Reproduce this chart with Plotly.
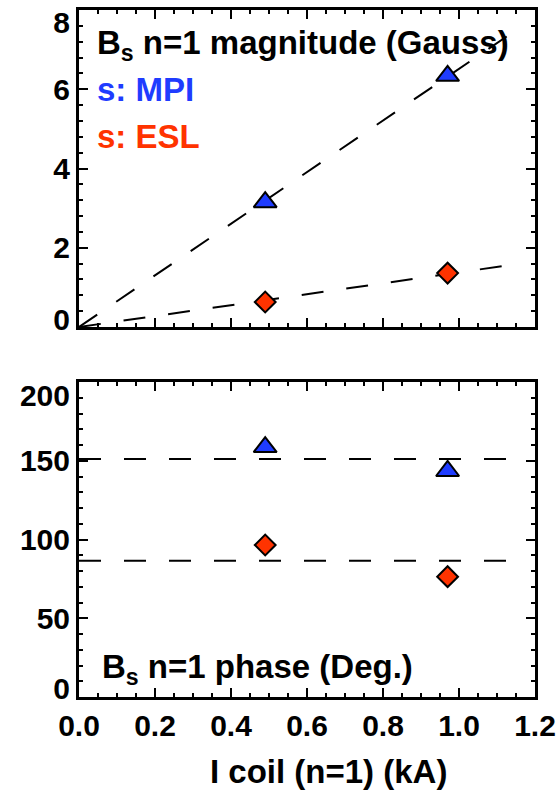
import numpy as np
import plotly.graph_objects as go

# ---- data ----
coil_current = [0.49, 0.97]          # I coil (n=1) (kA)
mpi_magnitude = [3.15, 6.34]         # Gauss
esl_magnitude = [0.63, 1.36]         # Gauss
mpi_phase = [158.7, 143.5]           # Deg.
esl_phase = [96.5, 76.4]             # Deg.
fit_range = [0.0, 1.13]              # extent of the dashed guide lines

x_ticks = [0.0, 0.2, 0.4, 0.6, 0.8, 1.0, 1.2]
mag_ticks = [0, 2, 4, 6, 8]
phase_ticks = [0, 50, 100, 150, 200]

BLUE = "#1f3cff"
RED = "#ff3300"
FONT = "Liberation Sans"

W, H = 558, 797


def px_x(p):
    return p / W


def px_y(p):
    return 1 - p / H


# linear fits through the origin for magnitude, mean values for phase
cx = np.array(coil_current)
slope_mpi = float(np.dot(cx, mpi_magnitude) / np.dot(cx, cx))
slope_esl = float(np.dot(cx, esl_magnitude) / np.dot(cx, cx))
fx = np.array(fit_range)
mean_mpi = float(np.mean(mpi_phase))
mean_esl = float(np.mean(esl_phase))

fig = go.Figure()

dash_style = dict(color="black", width=2, dash="22px,23px")
tri = dict(symbol="triangle-up", size=20, color=BLUE, line=dict(color="black", width=2))
dia = dict(symbol="diamond", size=16, color=RED, line=dict(color="black", width=2))

# top panel
fig.add_trace(go.Scatter(x=fx, y=slope_mpi * fx, mode="lines", line=dash_style,
                         xaxis="x", yaxis="y", showlegend=False))
fig.add_trace(go.Scatter(x=fx, y=slope_esl * fx, mode="lines", line=dash_style,
                         xaxis="x", yaxis="y", showlegend=False))
fig.add_trace(go.Scatter(x=coil_current, y=mpi_magnitude, mode="markers", marker=tri,
                         xaxis="x", yaxis="y", showlegend=False))
fig.add_trace(go.Scatter(x=coil_current, y=esl_magnitude, mode="markers", marker=dia,
                         xaxis="x", yaxis="y", showlegend=False))

# bottom panel
fig.add_trace(go.Scatter(x=fx, y=[mean_mpi, mean_mpi], mode="lines", line=dash_style,
                         xaxis="x2", yaxis="y2", showlegend=False))
fig.add_trace(go.Scatter(x=fx, y=[mean_esl, mean_esl], mode="lines", line=dash_style,
                         xaxis="x2", yaxis="y2", showlegend=False))
fig.add_trace(go.Scatter(x=coil_current, y=mpi_phase, mode="markers", marker=tri,
                         xaxis="x2", yaxis="y2", showlegend=False))
fig.add_trace(go.Scatter(x=coil_current, y=esl_phase, mode="markers", marker=dia,
                         xaxis="x2", yaxis="y2", showlegend=False))

# invisible carriers so the overlay label axes get drawn
for xa, ya, yv in [("x", "y3", mag_ticks[-1]), ("x", "y4", mag_ticks[0]),
                   ("x2", "y5", phase_ticks[-1]), ("x2", "y6", phase_ticks[0])]:
    fig.add_trace(go.Scatter(x=[coil_current[0]], y=[yv], mode="markers",
                             marker=dict(opacity=0), hoverinfo="skip",
                             xaxis=xa, yaxis=ya, showlegend=False))

tick_font = dict(family=FONT, size=30, color="black", weight="bold")

common = dict(showline=True, linewidth=3, linecolor="black", mirror="ticks",
              ticks="inside", ticklen=9, tickwidth=2, tickcolor="black",
              showgrid=False, zeroline=False, tickfont=tick_font, automargin=False)

CLEAR = "rgba(0,0,0,0)"
label_only = dict(visible=True, showticklabels=True, showline=True, linewidth=3,
                  linecolor=CLEAR, ticks="inside", ticklen=9, tickwidth=2, tickcolor=CLEAR,
                  showgrid=False, zeroline=False, side="left",
                  tickfont=tick_font, automargin=False, ticklabeloverflow="allow")

x_dom = [px_x(79), px_x(535)]
top_dom = [px_y(327), px_y(10)]
bot_dom = [px_y(697), px_y(382)]
mag_range = [mag_ticks[0], mag_ticks[-1]]
phase_range = [phase_ticks[0], phase_ticks[-1]]

fig.update_layout(
    width=W, height=H,
    margin=dict(l=0, r=0, t=0, b=0, autoexpand=False),
    paper_bgcolor="white", plot_bgcolor="white",
    xaxis=dict(domain=x_dom, range=[0, 1.2], tickvals=x_ticks, showticklabels=False,
               minor=dict(dtick=0.05, ticklen=4, tickwidth=2, ticks="inside", tickcolor="black"),
               anchor="y", **common),
    yaxis=dict(domain=top_dom, range=mag_range, tickvals=mag_ticks,
               ticktext=["" if v in (mag_ticks[0], mag_ticks[-1]) else str(v) for v in mag_ticks],
               minor=dict(dtick=0.4, ticklen=4, tickwidth=2, ticks="inside", tickcolor="black"),
               anchor="x", **common),
    # end labels, nudged inward like the original
    yaxis3=dict(overlaying="y", anchor="x", range=mag_range, tickvals=[mag_ticks[-1]],
                ticklabelshift=12, **label_only),
    yaxis4=dict(overlaying="y", anchor="x", range=mag_range, tickvals=[mag_ticks[0]],
                ticklabelshift=-8, **label_only),
    xaxis2=dict(domain=x_dom, range=[0, 1.2], tickvals=x_ticks,
                ticktext=[f"{v:.1f}" for v in x_ticks],
                minor=dict(dtick=0.05, ticklen=4, tickwidth=2, ticks="inside", tickcolor="black"),
                anchor="y2", **common),
    yaxis2=dict(domain=bot_dom, range=phase_range, tickvals=phase_ticks,
                ticktext=["" if v in (phase_ticks[0], phase_ticks[-1]) else str(v) for v in phase_ticks],
                minor=dict(dtick=10, ticklen=4, tickwidth=2, ticks="inside", tickcolor="black"),
                anchor="x2", **common),
    yaxis5=dict(overlaying="y2", anchor="x2", range=phase_range, tickvals=[phase_ticks[-1]],
                ticklabelshift=13, **label_only),
    yaxis6=dict(overlaying="y2", anchor="x2", range=phase_range, tickvals=[phase_ticks[0]],
                ticklabelshift=-9, **label_only),
)

text_font = dict(family=FONT, size=33, color="black", weight="bold")

annotations = [
    dict(text="B<sub>s</sub> n=1 magnitude (Gauss)", x=px_x(95), y=px_y(22),
         font=text_font),
    dict(text="s: MPI", x=px_x(95), y=px_y(69), font=dict(text_font, color=BLUE)),
    dict(text="s: ESL", x=px_x(95), y=px_y(116), font=dict(text_font, color=RED)),
    dict(text="B<sub>s</sub> n=1 phase (Deg.)", x=px_x(100), y=px_y(646),
         font=text_font),
]
for a in annotations:
    fig.add_annotation(xref="paper", yref="paper", xanchor="left", yanchor="top",
                       showarrow=False, **a)

fig.add_annotation(text="I coil (n=1) (kA)", xref="paper", yref="paper",
                   x=px_x(328), y=px_y(751), xanchor="center", yanchor="top",
                   showarrow=False, font=text_font)

fig.write_html("out.html")
